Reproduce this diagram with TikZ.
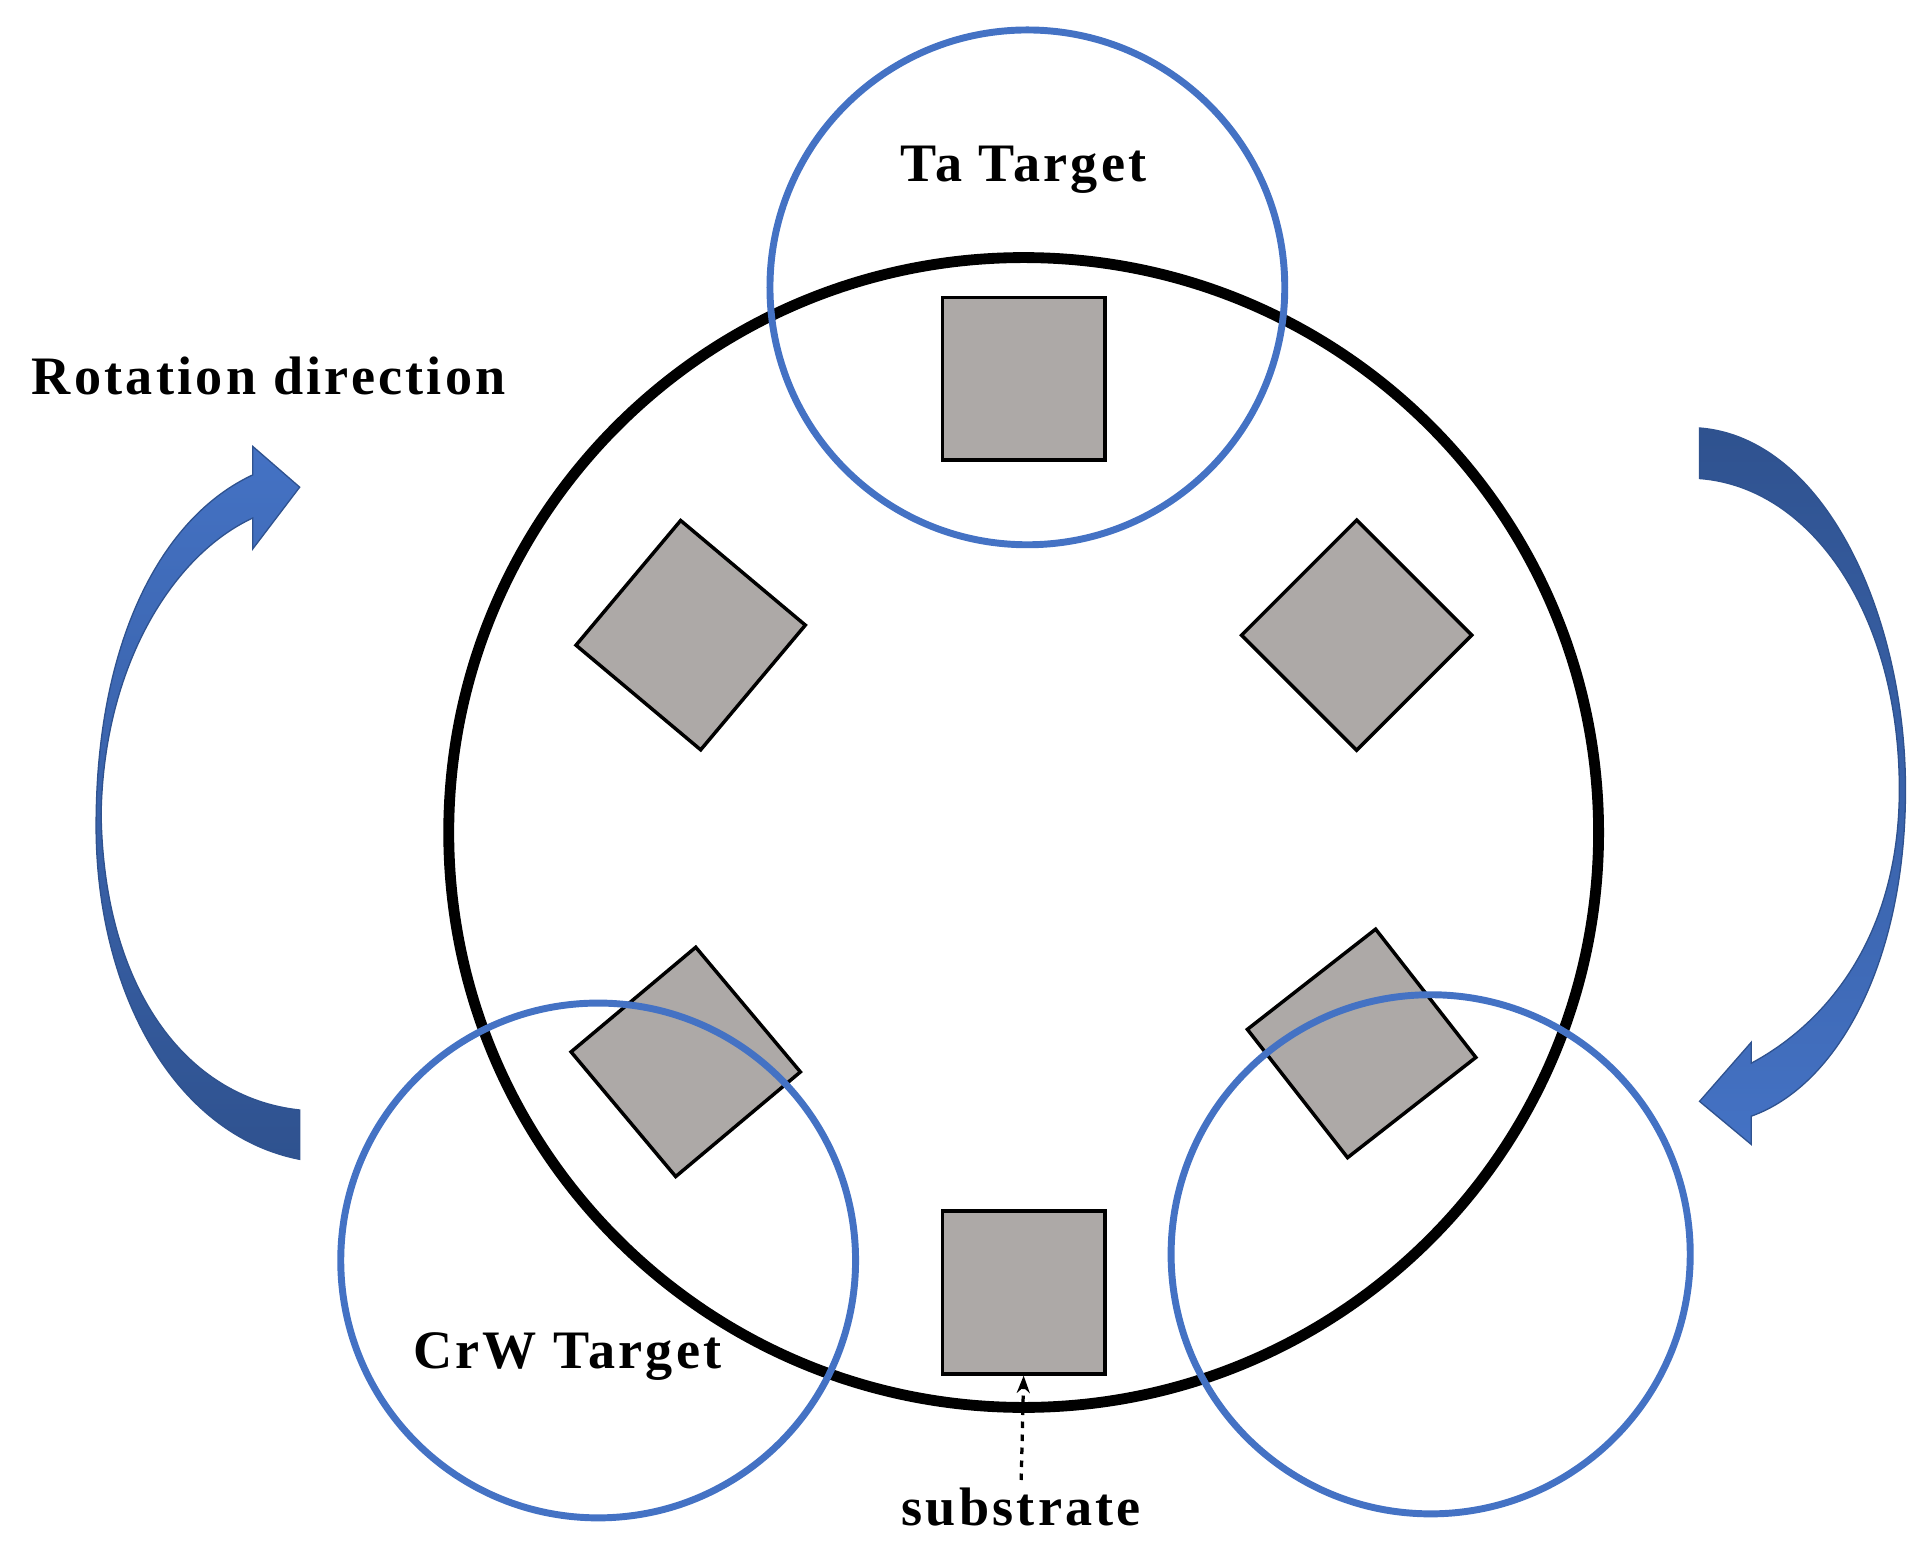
\documentclass[tikz,border=0pt]{standalone}
\usepackage{fontspec}
\setmainfont{Liberation Serif}
\usetikzlibrary{arrows.meta}
\definecolor{tblue}{HTML}{4472C4}
\definecolor{dblue}{HTML}{2F528F}
\definecolor{sgray}{HTML}{ADA9A7}
\begin{document}
\begin{tikzpicture}[x=0.02cm,y=-0.02cm,
  target/.style={draw=tblue,line width=3.2pt},
  sub/.style={draw=black,fill=sgray,line width=1.6pt,minimum size=2.64cm,inner sep=0,shape=rectangle},
  lab/.style={font=\fontsize{25}{29}\selectfont\bfseries\addfontfeature{LetterSpace=6}},
  rarrow/.style={draw=dblue,line width=0.6pt}]
\useasboundingbox (0,0) rectangle (1560,1257);
\node[circle,draw=black,line width=5pt,minimum size=18.65cm,inner sep=0] (wafer) at (830,675) {};
\node[sub] (s1) at (830,307) {};
\node[sub] (s2) at (830,1048) {};
\node[sub,rotate=-40] (s3) at (560,515) {};
\node[sub,rotate=-45] (s4) at (1100,515) {};
\node[sub,rotate=-50] (s5) at (556,861) {};
\node[sub,rotate=-52] (s6) at (1104,846) {};
\node[circle,target,minimum size=8.35cm,inner sep=0] (ta) at (833,233) {};
\node[circle,target,minimum size=8.35cm,inner sep=0] (crw) at (485,1022) {};
\node[circle,target,minimum size=8.42cm,inner sep=0] (rt) at (1160,1017) {};
\node[lab] (talab) at (830,138) {Ta Target};
\node[lab] (rot) at (218,305) {Rotation direction};
\node[lab] (crwlab) at (460,1100) {CrW Target};
\node[lab,anchor=north] (subl) at (828,1200) {substrate};
\draw[dashed,line width=1.5pt,-{Stealth[length=8pt]}] (subl.north) -- (s2.south);
\path[rarrow,top color=tblue,bottom color=dblue] (243,940) .. controls (140,920) and (75,800) .. (78,660)
  .. controls (80,520) and (130,420) .. (205,385) -- (205,362) -- (243,395) -- (205,445) -- (205,420)
  .. controls (140,450) and (84,540) .. (82,660)
  .. controls (84,800) and (150,890) .. (243,900) -- cycle;
\path[rarrow,top color=dblue,bottom color=tblue] (1378,347) .. controls (1480,355) and (1545,500) .. (1545,640)
  .. controls (1545,780) and (1490,880) .. (1420,905) -- (1420,928) -- (1378,893) -- (1420,845) -- (1420,862)
  .. controls (1480,830) and (1540,760) .. (1540,640)
  .. controls (1540,500) and (1470,395) .. (1378,388) -- cycle;
\end{tikzpicture}
\end{document}
